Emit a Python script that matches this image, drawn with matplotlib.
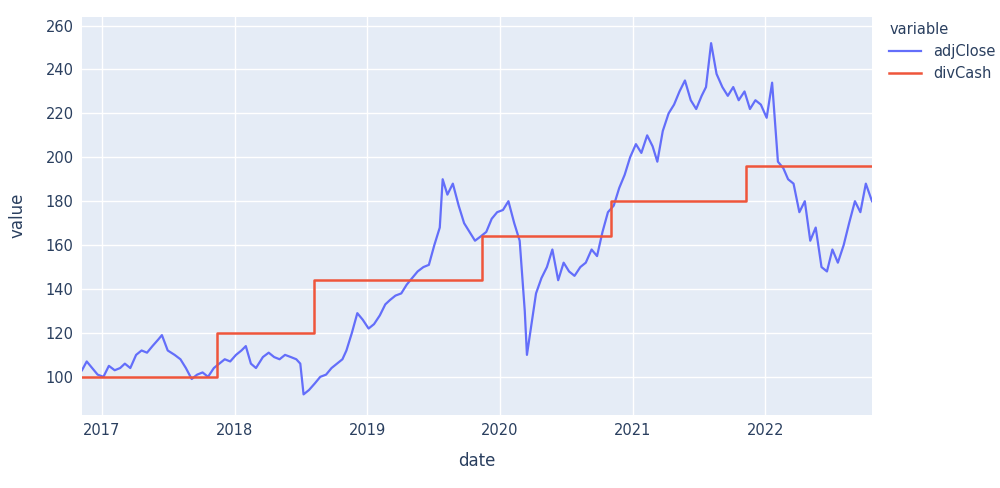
import matplotlib.pyplot as plt
import matplotlib.dates as mdates
import pandas as pd

# adjClose (semi-monthly)
close_dates = pd.to_datetime([
    '2016-11-07', '2016-11-20', '2016-12-05', '2016-12-20', '2017-01-05', '2017-01-20', '2017-02-05', '2017-02-20',
    '2017-03-05', '2017-03-20', '2017-04-05', '2017-04-20', '2017-05-05', '2017-05-20', '2017-06-05', '2017-06-15',
    '2017-07-01', '2017-07-20', '2017-08-05', '2017-08-20', '2017-09-05', '2017-09-20', '2017-10-05', '2017-10-20',
    '2017-11-05', '2017-11-20', '2017-12-05', '2017-12-20', '2018-01-05', '2018-01-20', '2018-02-01', '2018-02-15',
    '2018-03-01', '2018-03-20', '2018-04-05', '2018-04-20', '2018-05-05', '2018-05-20', '2018-06-05', '2018-06-20',
    '2018-07-01', '2018-07-10', '2018-07-25', '2018-08-10', '2018-08-25', '2018-09-10', '2018-09-25', '2018-10-10',
    '2018-10-25', '2018-11-05', '2018-11-20', '2018-12-05', '2018-12-20', '2019-01-05', '2019-01-20', '2019-02-05',
    '2019-02-20', '2019-03-05', '2019-03-20', '2019-04-05', '2019-04-20', '2019-05-05', '2019-05-20', '2019-06-05',
    '2019-06-20', '2019-07-05', '2019-07-20', '2019-07-28', '2019-08-10', '2019-08-25', '2019-09-10', '2019-09-25',
    '2019-10-10', '2019-10-25', '2019-11-10', '2019-11-25', '2019-12-10', '2019-12-25', '2020-01-10', '2020-01-25',
    '2020-02-10', '2020-02-25', '2020-03-10', '2020-03-16', '2020-03-25', '2020-04-10', '2020-04-25', '2020-05-10',
    '2020-05-25', '2020-06-10', '2020-06-25', '2020-07-10', '2020-07-25', '2020-08-10', '2020-08-25', '2020-09-10',
    '2020-09-25', '2020-10-10', '2020-10-25', '2020-11-10', '2020-11-25', '2020-12-10', '2020-12-25', '2021-01-10',
    '2021-01-25', '2021-02-10', '2021-02-25', '2021-03-10', '2021-03-25', '2021-04-10', '2021-04-25', '2021-05-10',
    '2021-05-25', '2021-06-10', '2021-06-25', '2021-07-10', '2021-07-22', '2021-08-05', '2021-08-20', '2021-09-05',
    '2021-09-20', '2021-10-05', '2021-10-20', '2021-11-05', '2021-11-20', '2021-12-05', '2021-12-20', '2022-01-05',
    '2022-01-20', '2022-02-05', '2022-02-20', '2022-03-05', '2022-03-20', '2022-04-05', '2022-04-20', '2022-05-05',
    '2022-05-20', '2022-06-05', '2022-06-20', '2022-07-05', '2022-07-20', '2022-08-05', '2022-08-20', '2022-09-05',
    '2022-09-20', '2022-10-05', '2022-10-22',
])
adj_close = [
    103, 107, 104, 101, 100, 105, 103, 104,
    106, 104, 110, 112, 111, 114, 117, 119,
    112, 110, 108, 104, 99, 101, 102, 100,
    104, 106, 108, 107, 110, 112, 114, 106,
    104, 109, 111, 109, 108, 110, 109, 108,
    106, 92, 94, 97, 100, 101, 104, 106,
    108, 112, 120, 129, 126, 122, 124, 128,
    133, 135, 137, 138, 142, 145, 148, 150,
    151, 160, 168, 190, 183, 188, 178, 170,
    166, 162, 164, 166, 172, 175, 176, 180,
    170, 162, 130, 110, 120, 138, 145, 150,
    158, 144, 152, 148, 146, 150, 152, 158,
    155, 166, 175, 178, 186, 192, 200, 206,
    202, 210, 205, 198, 212, 220, 224, 230,
    235, 226, 222, 228, 232, 252, 238, 232,
    228, 232, 226, 230, 222, 226, 224, 218,
    234, 198, 195, 190, 188, 175, 180, 162,
    168, 150, 148, 158, 152, 160, 170, 180,
    175, 188, 180,
]

# divCash as a step series (value holds until the next date)
div_dates = pd.to_datetime(['2016-11-07', '2017-11-14', '2018-08-08', '2019-11-12',
                            '2020-11-03', '2021-11-10', '2022-10-22'])
div_cash = [100, 120, 144, 164, 180, 196, 196]

blue = '#636EFA'
red = '#EF553B'
txt = '#2a3f5f'

fig = plt.figure(figsize=(10, 4.88), dpi=100)
ax = fig.add_axes([0.082, 0.15, 0.79, 0.816])
ax.set_facecolor('#E5ECF6')
ax.plot(close_dates, adj_close, color=blue, lw=1.6, label='adjClose')
ax.step(div_dates, div_cash, where='post', color=red, lw=1.8, label='divCash')

ax.set_xlim(pd.Timestamp('2016-11-07'), pd.Timestamp('2022-10-22'))
ax.set_ylim(82.7, 264.1)
ax.set_yticks(range(100, 261, 20))
ax.xaxis.set_major_locator(mdates.YearLocator())
ax.xaxis.set_major_formatter(mdates.DateFormatter('%Y'))
ax.grid(True, color='white', lw=1)
ax.set_axisbelow(True)
for s in ax.spines.values():
    s.set_visible(False)
ax.tick_params(length=0, colors=txt, labelsize=10.5, pad=6)
ax.set_xlabel('date', color=txt, fontsize=12, labelpad=10)
ax.set_ylabel('value', color=txt, fontsize=12, labelpad=14)

leg = ax.legend(title='variable', loc='upper left', bbox_to_anchor=(1.005, 1.02),
                frameon=False, fontsize=10.5, title_fontsize=10.5, handlelength=2.2)
leg._legend_box.align = 'left'
for t in leg.get_texts():
    t.set_color(txt)
leg.get_title().set_color(txt)

fig.savefig('out.png')
